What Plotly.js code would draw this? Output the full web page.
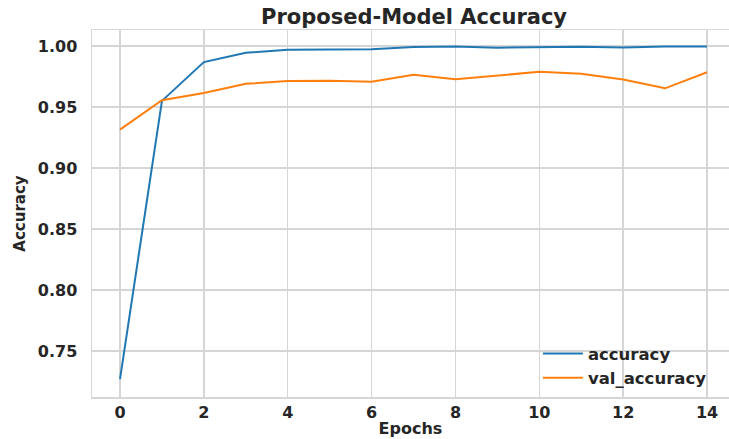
<!DOCTYPE html>
<html>
<head>
<meta charset="utf-8">
<script src="https://cdn.plot.ly/plotly-3.0.1.min.js"></script>
<style>html,body{margin:0;padding:0;background:#fff;}#chart{width:729px;height:439px;}</style>
</head>
<body>
<div id="chart"></div>
<script>
const epochs = [0,1,2,3,4,5,6,7,8,9,10,11,12,13,14];
const accuracy = [0.727,0.955,0.9868,0.9944,0.9970,0.9975,0.9974,0.9991,0.9995,0.9986,0.9990,0.9993,0.9988,0.9996,0.9996];
const valAccuracy = [0.9315,0.9555,0.9615,0.9690,0.9712,0.9715,0.9707,0.9765,0.9727,0.9758,0.9788,0.9773,0.9725,0.9653,0.9785];
const yTicks = [0.75,0.80,0.85,0.90,0.95,1.00];
const xTicks = [0,2,4,6,8,10,12,14];

const F = '"DejaVu Sans", sans-serif';
const TXT = '#262626';
const traces = [
  {x: epochs, y: accuracy, mode: 'lines', name: 'accuracy', line: {color: '#1f77b4', width: 2}},
  {x: epochs, y: valAccuracy, mode: 'lines', name: 'val_accuracy', line: {color: '#ff7f0e', width: 2}}
];
const layout = {
  width: 729, height: 439,
  margin: {l: 92, r: 0, t: 30, b: 42},
  paper_bgcolor: '#fff', plot_bgcolor: '#fff',
  title: {text: '<b>Proposed-Model Accuracy</b>', font: {family: F, size: 21, color: TXT}, x: 0.568, xanchor: 'center', y: 0.963, yanchor: 'middle'},
  xaxis: {
    range: [-0.668, 14.524], tickvals: xTicks, ticktext: xTicks.map(String),
    showgrid: true, gridcolor: '#d6d6d6', gridwidth: 1.5, zeroline: false,
    showline: true, linecolor: '#d6d6d6', linewidth: 1.5, mirror: true,
    ticks: '', ticklen: 0, ticklabelstandoff: 0,
    tickfont: {family: F, size: 16, color: TXT, weight: 'bold'},
    title: {text: '<b>Epochs</b>', font: {family: F, size: 16, color: TXT}, standoff: 2}
  },
  yaxis: {
    range: [0.7123, 1.0131], tickvals: yTicks, ticktext: yTicks.map(v => v.toFixed(2)),
    showgrid: true, gridcolor: '#d6d6d6', gridwidth: 1.5, zeroline: false,
    showline: true, linecolor: '#d6d6d6', linewidth: 1.5, mirror: false,
    ticks: '', ticklen: 0, ticklabelstandoff: 10,
    tickfont: {family: F, size: 16, color: TXT, weight: 'bold'},
    title: {text: '<b>Accuracy</b>', font: {family: F, size: 15, color: TXT}, standoff: 8}
  },
  showlegend: true,
  legend: {x: 0.70, y: 0.005, xanchor: 'left', yanchor: 'bottom', bgcolor: 'rgba(255,255,255,0)', borderwidth: 0,
    font: {family: F, size: 16.5, color: TXT, weight: 'bold'}, tracegroupgap: 0, itemwidth: 40}
};
Plotly.newPlot('chart', traces, layout, {displayModeBar: false, staticPlot: true});
</script>
</body>
</html>
